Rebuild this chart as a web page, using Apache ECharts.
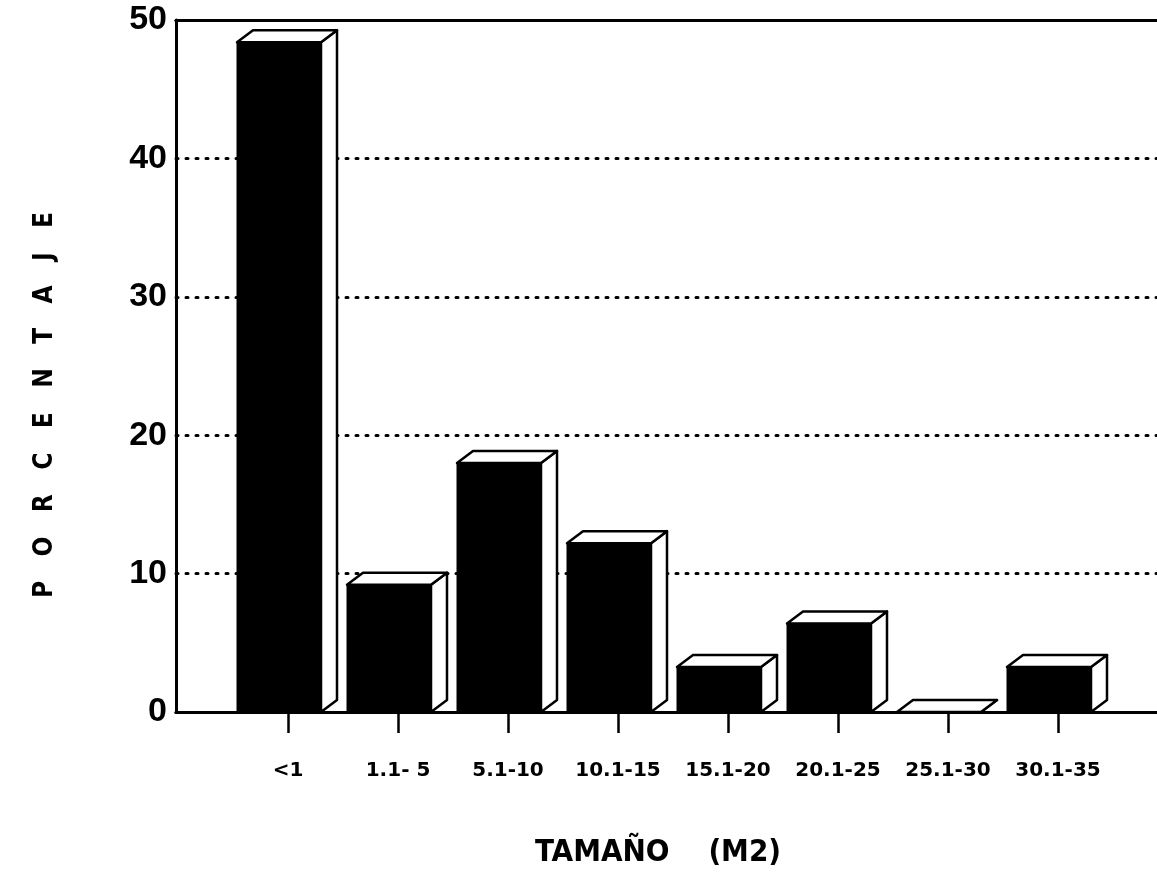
<!DOCTYPE html>
<html>
<head>
<meta charset="utf-8">
<script src="https://cdn.jsdelivr.net/npm/echarts@6/dist/echarts.min.js"></script>
<style>html,body{margin:0;padding:0;background:#fff;}#c{width:1157px;height:884px;}</style>
</head>
<body>
<div id="c"></div>
<script>
const categories = ['<1', '1.1- 5', '5.1-10', '10.1-15', '15.1-20', '20.1-25', '25.1-30', '30.1-35'];
const percentages = [48.4, 9.2, 18.0, 12.2, 3.25, 6.4, 0, 3.25];
const yTicks = [0, 10, 20, 30, 40, 50];
const yTitle = 'P   O   R   C   E   N   T   A   J   E';
const xTitle = 'TAMAÑO    (M2)';

const chart = echarts.init(document.getElementById('c'));

function renderBar(params, api) {
  const i = api.value(0);
  const v = api.value(1);
  const top = api.coord([i, v]);
  const base = api.coord([i, 0]);
  const cx = top[0];
  const fl = cx - 51, fr = cx + 33;
  const dx = 16, dy = 12;
  const ty = top[1], by = base[1];
  const stroke = { fill: '#fff', stroke: '#000', lineWidth: 2.5, lineJoin: 'round' };
  return {
    type: 'group',
    children: [
      { type: 'polygon', shape: { points: [[fr, ty], [fr + dx, ty - dy], [fr + dx, by - dy], [fr, by]] }, style: stroke },
      { type: 'polygon', shape: { points: [[fl, ty], [fr, ty], [fr + dx, ty - dy], [fl + dx, ty - dy]] }, style: stroke },
      { type: 'rect', shape: { x: fl, y: ty, width: fr - fl, height: by - ty }, style: { fill: '#000', stroke: '#000', lineWidth: 1 } }
    ]
  };
}

const option = {
  backgroundColor: '#fff',
  animation: false,
  graphic: [
    { type: 'text', x: 45, y: 405, rotation: Math.PI / 2,
      style: { text: yTitle, fill: '#000', font: 'bold 26px "DejaVu Sans Condensed", "DejaVu Sans"',
        align: 'center', verticalAlign: 'middle' } },
    { type: 'text', x: 658, y: 853,
      style: { text: xTitle, fill: '#000', font: 'bold 31px "DejaVu Sans Condensed", "DejaVu Sans"',
        align: 'center', verticalAlign: 'middle' } }
  ],
  grid: [
    { left: 176, right: 0, top: 20, bottom: 172 },
    { left: 233, width: 880, top: 20, bottom: 172 }
  ],
  xAxis: [
    { gridIndex: 0, type: 'value', min: 0, max: 1, position: 'bottom',
      axisLine: { show: true, lineStyle: { color: '#000', width: 3 } },
      axisTick: { show: false }, axisLabel: { show: false }, splitLine: { show: false } },
    { gridIndex: 0, type: 'value', min: 0, max: 1, position: 'top',
      axisLine: { show: true, lineStyle: { color: '#000', width: 3 } },
      axisTick: { show: false }, axisLabel: { show: false }, splitLine: { show: false } },
    { gridIndex: 1, type: 'category', data: categories, boundaryGap: true,
      axisLine: { show: false },
      axisTick: { show: true, alignWithLabel: true, inside: false, length: 21, lineStyle: { color: '#000', width: 2.5 } },
      axisLabel: { margin: 49, color: '#000', fontFamily: 'DejaVu Sans', fontWeight: 'bold', fontSize: 20, interval: 0 } }
  ],
  yAxis: [
    { gridIndex: 0, type: 'value', min: 0, max: 50, interval: 10,
      axisLine: { show: true, lineStyle: { color: '#000', width: 3 } },
      axisTick: { show: false },
      axisLabel: { margin: 9, color: '#000', fontFamily: 'Liberation Sans', fontWeight: 'bold', fontSize: 34,
        formatter: function (val) { return yTicks.indexOf(val) >= 0 ? String(val) : ''; } },
      splitLine: { show: true, lineStyle: { color: '#000', width: 3, type: [2, 8], cap: 'round' } } },
    { gridIndex: 1, type: 'value', min: 0, max: 50, interval: 10, show: false }
  ],
  series: [
    { type: 'custom', xAxisIndex: 2, yAxisIndex: 1, renderItem: renderBar, clip: false,
      encode: { x: 0, y: 1 },
      data: percentages.map(function (p, i) { return [i, p]; }) }
  ]
};
chart.setOption(option);
</script>
</body>
</html>
